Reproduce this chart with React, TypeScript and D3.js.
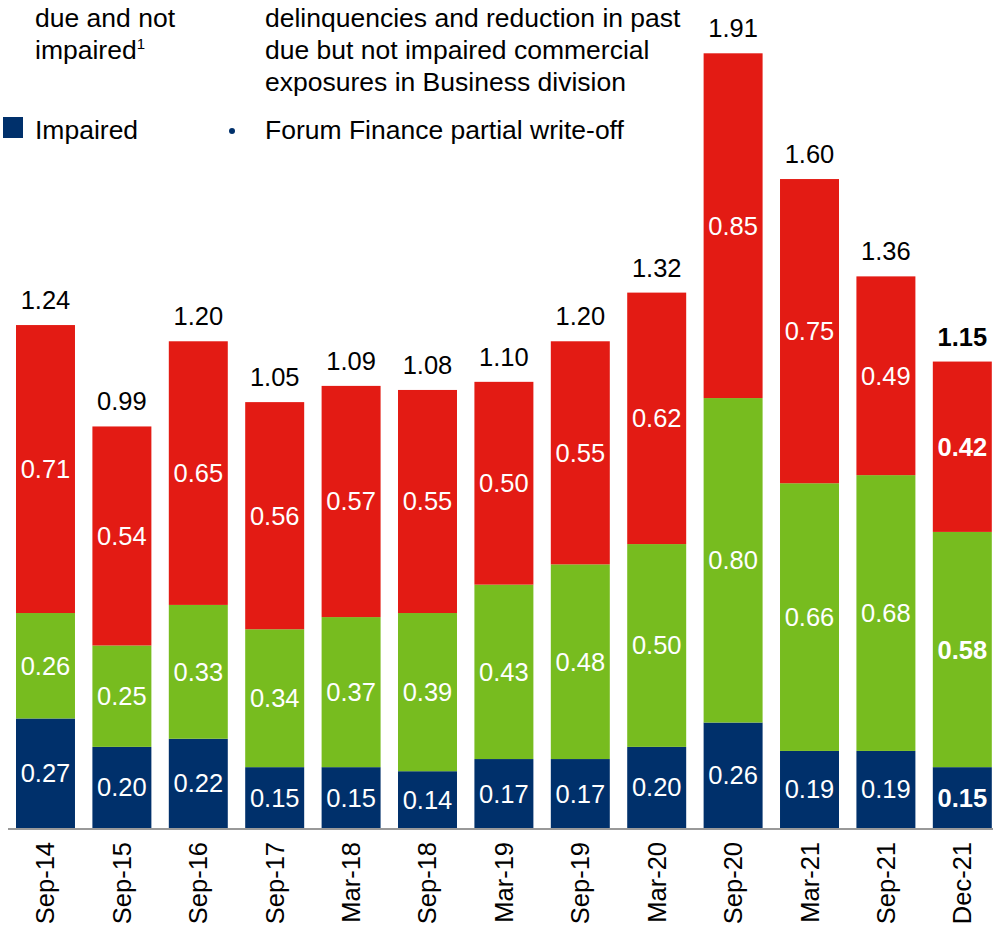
import React from "react";
import * as d3 from "d3";

const categories = ["Sep-14","Sep-15","Sep-16","Sep-17","Mar-18","Sep-18","Mar-19","Sep-19","Mar-20","Sep-20","Mar-21","Sep-21","Dec-21"];
const impaired = [0.27,0.20,0.22,0.15,0.15,0.14,0.17,0.17,0.20,0.26,0.19,0.19,0.15];
const pastDue90 = [0.26,0.25,0.33,0.34,0.37,0.39,0.43,0.48,0.50,0.80,0.66,0.68,0.58];
const pastDueLess90 = [0.71,0.54,0.65,0.56,0.57,0.55,0.50,0.55,0.62,0.85,0.75,0.49,0.42];
const totals = [1.24,0.99,1.20,1.05,1.09,1.08,1.10,1.20,1.32,1.91,1.60,1.36,1.15];
const boldIndex = 12;

const NAVY = "#00306B";
const GREEN = "#77BC1F";
const RED = "#E31B14";
const FONT = "Arial, 'Liberation Sans', sans-serif";

export default function App() {
  const W = 993, H = 931;
  const baseY = 828;
  const x = d3.scaleBand<string>().domain(categories).range([16, 991.8]).paddingInner(0.228).paddingOuter(0);
  const y = d3.scaleLinear().domain([0, 1]).range([baseY, baseY - 405.6]);

  const series = [
    { key: "impaired", vals: impaired, color: NAVY },
    { key: "pd90", vals: pastDue90, color: GREEN },
    { key: "pdl90", vals: pastDueLess90, color: RED },
  ];

  const marks: React.ReactNode[] = [];
  categories.forEach((c, i) => {
    let acc = 0;
    const bx = x(c)!;
    const bw = x.bandwidth();
    const cx = bx + bw / 2;
    const bold = i === boldIndex;
    series.forEach((s) => {
      const v = s.vals[i];
      const y0 = y(acc);
      const y1 = y(acc + v);
      acc += v;
      marks.push(
        <rect key={`${s.key}-${c}`} x={bx} y={y1} width={bw} height={y0 - y1} fill={s.color} />
      );
      marks.push(
        <text key={`${s.key}-t-${c}`} x={cx} y={(y0 + y1) / 2 + 9} textAnchor="middle" fill="#fff"
          fontSize={25.5} fontWeight={bold ? "bold" : "normal"} fontFamily={FONT}>{v.toFixed(2)}</text>
      );
    });
    marks.push(
      <text key={`tot-${c}`} x={cx} y={y(totals[i]) - 16} textAnchor="middle" fill="#000"
        fontSize={25.5} fontWeight={bold ? "bold" : "normal"} fontFamily={FONT}>{totals[i].toFixed(2)}</text>
    );
    marks.push(
      <text key={`lab-${c}`} transform={`translate(${cx + 9},${baseY + 14}) rotate(-90)`} textAnchor="end"
        fill="#000" fontSize={25.5} fontFamily={FONT}>{c}</text>
    );
  });

  return (
    <svg width={W} height={H} style={{ position: "absolute", left: 0, top: 0, display: "block" }}>
      <rect x={0} y={0} width={W} height={H} fill="#fff" />
      <g fontFamily={FONT} fontSize={26.5} fill="#000">
        <text x={35} y={-5}>90+ days past</text>
        <text x={35} y={27}>due and not</text>
        <text x={35} y={59}>impaired<tspan fontSize={15} dy={-10}>1</tspan></text>
        <text x={265} y={-5}>Increase driven by higher mortgage</text>
        <text x={265} y={27}>delinquencies and reduction in past</text>
        <text x={265} y={59}>due but not impaired commercial</text>
        <text x={265} y={91}>exposures in Business division</text>
        <rect x={3} y={117} width={20} height={21} fill={NAVY} />
        <text x={35} y={139}>Impaired</text>
        <circle cx={232} cy={131} r={3} fill={NAVY} />
        <text x={265} y={139}>Forum Finance partial write-off</text>
      </g>
      {marks}
      <line x1={8} x2={993} y1={baseY + 1} y2={baseY + 1} stroke="#999" strokeWidth={2} />
    </svg>
  );
}
